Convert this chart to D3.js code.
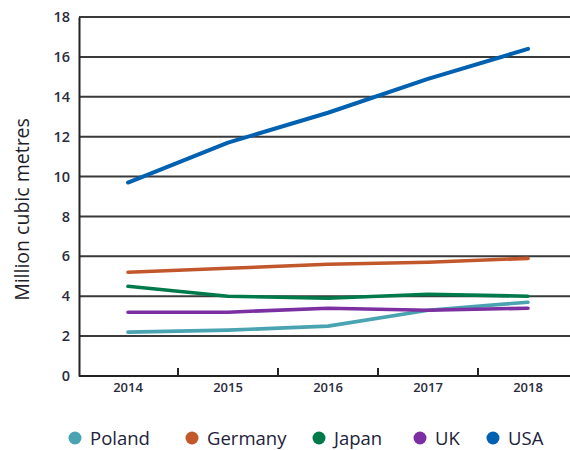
<!DOCTYPE html>
<html>
<head>
<meta charset="utf-8">
<script src="https://cdn.jsdelivr.net/npm/d3@7"></script>
<style>
  body { margin: 0; background: #fff; }
  text { font-family: "Open Sans", "Noto Sans", sans-serif; }
</style>
</head>
<body>
<svg id="chart" width="570" height="450"></svg>
<script>
const years = ['2014', '2015', '2016', '2017', '2018'];
const yTicks = [0, 2, 4, 6, 8, 10, 12, 14, 16, 18];

const poland  = [2.2, 2.3, 2.5, 3.3, 3.7];
const germany = [5.2, 5.4, 5.6, 5.7, 5.9];
const japan   = [4.5, 4.0, 3.9, 4.1, 4.0];
const uk      = [3.2, 3.2, 3.4, 3.3, 3.4];
const usa     = [9.7, 11.7, 13.2, 14.9, 16.4];

const seriesNames  = ['Poland', 'Germany', 'Japan', 'UK', 'USA'];
const seriesValues = [poland, germany, japan, uk, usa];
const seriesColors = ['#4aa3b1', '#c1572b', '#007a4b', '#7b2fa1', '#0061b1'];

const margin = {top: 17, left: 79, bottom: 376};
const svg = d3.select('#chart');

const x = d3.scaleBand().domain(years).range([78, 578]).padding(0);
const y = d3.scaleLinear().domain([0, 18]).range([margin.bottom, margin.top]);

// grid lines
svg.append('g')
    .selectAll('line')
    .data(yTicks.filter(d => d > 0))
    .enter().append('line')
    .attr('x1', margin.left).attr('x2', 570)
    .attr('y1', d => y(d)).attr('y2', d => y(d))
    .attr('stroke', '#3a3a3a').attr('stroke-width', 2);

// y axis
const yAxis = svg.append('g')
    .attr('transform', `translate(${margin.left},0)`)
    .call(d3.axisLeft(y).tickValues(yTicks).tickSize(0).tickPadding(9));
yAxis.select('.domain').attr('stroke', '#222').attr('stroke-width', 2);
yAxis.selectAll('text')
    .attr('font-size', 14.5).attr('font-weight', 600).attr('fill', '#2b2b3c');

// x axis
const xAxis = svg.append('g')
    .attr('transform', `translate(0,${margin.bottom})`)
    .call(d3.axisBottom(x).tickSize(0).tickPadding(7));
xAxis.select('.domain').remove();
xAxis.append('line')
    .attr('x1', margin.left).attr('x2', 570)
    .attr('stroke', '#222').attr('stroke-width', 2);
xAxis.selectAll('text')
    .attr('font-size', 13).attr('font-weight', 600).attr('fill', '#2b2b3c');
xAxis.selectAll('.sep')
    .data(years.slice(1))
    .enter().append('line')
    .attr('class', 'sep')
    .attr('x1', d => x(d)).attr('x2', d => x(d))
    .attr('y1', 0).attr('y2', -8)
    .attr('stroke', '#222').attr('stroke-width', 2);

// y label
svg.append('text')
    .attr('transform', `translate(29,${(margin.top + margin.bottom) / 2 + 13}) rotate(-90)`)
    .attr('text-anchor', 'middle')
    .attr('font-size', 19.5)
    .attr('fill', '#1e1e2a')
    .text('Million cubic metres');

// lines
const line = d3.line()
    .x((d, i) => x(years[i]) + x.bandwidth() / 2)
    .y(d => y(d));

svg.append('g')
    .selectAll('path')
    .data(seriesValues)
    .enter().append('path')
    .attr('d', line)
    .attr('fill', 'none')
    .attr('stroke', (d, i) => seriesColors[i])
    .attr('stroke-width', (d, i) => i === 4 ? 4 : 3.6)
    .attr('stroke-linecap', 'round')
    .attr('stroke-linejoin', 'round');

// legend
const legendX = [75, 192, 319, 420, 493];
const lg = svg.append('g')
    .selectAll('g')
    .data(seriesNames)
    .enter().append('g')
    .attr('transform', (d, i) => `translate(${legendX[i]},438)`);
lg.append('circle')
    .attr('r', 6.5)
    .attr('fill', (d, i) => seriesColors[i]);
lg.append('text')
    .attr('x', 15).attr('y', 6.5)
    .attr('font-size', 18.5)
    .attr('font-weight', 500)
    .attr('fill', '#22223a')
    .text(d => d);
</script>
</body>
</html>
